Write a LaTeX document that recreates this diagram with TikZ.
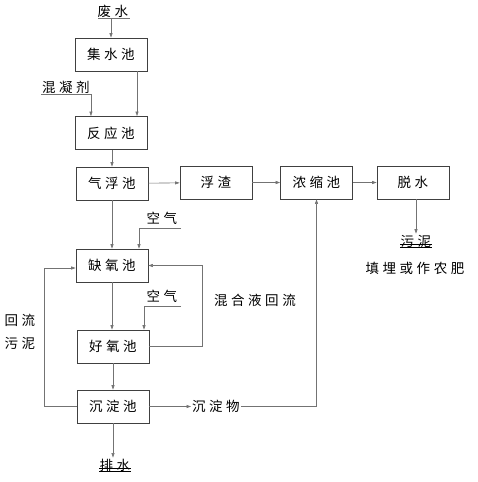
\documentclass[tikz,border=0pt]{standalone}
\usepackage{fontspec}
\newfontfamily\cjk[LetterSpace=26]{Noto Sans CJK SC}
\usetikzlibrary{arrows.meta}
\begin{document}
\begin{tikzpicture}[x=1pt,y=-1pt,
  box/.style={draw=black!75,line width=0.7pt,minimum width=72pt,minimum height=33pt,inner sep=0pt,font=\cjk\fontsize{13.5}{13.5}\selectfont},
  lbl/.style={inner sep=1pt,font=\cjk\fontsize{13.5}{13.5}\selectfont},
  ln/.style={draw=black!55,line width=0.6pt},
  arr/.style={ln,-{Triangle[length=4.5pt,width=3pt]}}]
\useasboundingbox (0,0) rectangle (477,482);
% boxes
\node[box] (jsc) at (111,54.5) {集水池};
\node[box] (fyc) at (111,133) {反应池};
\node[box] (qfc) at (112,183.5) {气浮池};
\node[box] (fz) at (216,182.5) {浮渣};
\node[box] (nsc) at (316.5,182.5) {浓缩池};
\node[box] (ts) at (413,182.5) {脱水};
\node[box] (qyc) at (112,265.5) {缺氧池};
\node[box] (hyc) at (113,346.5) {好氧池};
\node[box] (cdc) at (113,406.5) {沉淀池};
% labels
\node[lbl] (fs) at (113,11) {废水};
\node[lbl] (hnj) at (66,87) {混凝剂};
\node[lbl] (kq1) at (162,218) {空气};
\node[lbl] (kq2) at (162,296) {空气};
\node[lbl] (hhy) at (255,300) {混合液回流};
\node[lbl] (hl) at (20,320) {回流};
\node[lbl] (wn) at (20,343) {污泥};
\node[lbl] (cdw) at (216,406.5) {沉淀物};
\node[lbl] (ps) at (115,465) {排水};
\node[lbl] (wn2) at (416,241) {污泥};
\node[lbl] (tm) at (415,268) {填埋或作农肥};
\coordinate (a1) at (181,228);
\coordinate (a2) at (181,306);
% underlines
\draw[ln] ([xshift=-15]fs.south) -- ([xshift=17]fs.south);
\draw[ln] (hnj.south west) -- (hnj.south east);
\draw[black,line width=0.9pt] ([xshift=-16,yshift=1]ps.south) -- ([xshift=16,yshift=1]ps.south);
\draw[black,line width=0.9pt] ([xshift=-16,yshift=4]ps.south) -- ([xshift=16,yshift=4]ps.south);
\draw[black,line width=0.8pt] ([xshift=-16,yshift=1]wn2.south) -- ([xshift=16,yshift=1]wn2.south);
\draw[black,line width=0.8pt] ([xshift=-16,yshift=4]wn2.south) -- ([xshift=16,yshift=4]wn2.south);
% connectors
\draw[arr] (fs.south -| jsc.north) -- (jsc.north);
\draw[arr] (hnj.south east) -- (hnj.south east |- fyc.north);
\draw[arr] ([xshift=26]jsc.south) -- ([xshift=26]jsc.south |- fyc.north);
\draw[arr] (fyc.south -| qfc.north) -- (qfc.north);
\draw[arr] (qfc) -- (fz);
\draw[arr] (fz) -- (nsc);
\draw[arr] (nsc) -- (ts);
\draw[arr] (qfc.south) -- (qfc.south |- qyc.north);
\draw[arr] (a1) -| ([xshift=27]qyc.north);
\draw[arr] (qyc.south) -- (qyc.south |- hyc.north);
\draw[arr] (a2) -| ([xshift=31]hyc.north);
\draw[arr] (hyc.east) -- (202,346.5) |- (qyc.east);
\draw[arr] (cdc.west) -- (44,406.5) |- ([yshift=-2.5]qyc.west);
\draw[arr] (hyc.south) -- (cdc.north);
\draw[arr] (cdc.east) -- (cdw.west);
\draw[arr] (cdw.east) -| (nsc.south);
\draw[arr] (cdc.south) -- (cdc.south |- ps.north);
\draw[arr] ([xshift=3]ts.south) -- ([xshift=3]ts.south |- wn2.north);
\end{tikzpicture}
\end{document}
